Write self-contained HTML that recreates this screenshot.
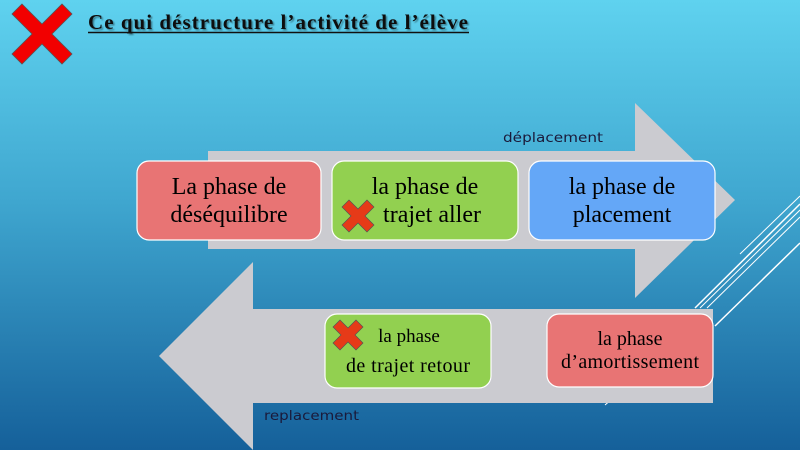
<!DOCTYPE html>
<html><head><meta charset="utf-8"><style>
html,body{margin:0;padding:0;width:800px;height:450px;overflow:hidden}
svg{display:block}
.serif{font-family:"Liberation Serif",serif}
.sans{font-family:"DejaVu Sans","Liberation Sans",sans-serif}
</style></head><body>
<svg width="800" height="450" viewBox="0 0 800 450" xmlns="http://www.w3.org/2000/svg">
<defs>
<linearGradient id="bg" x1="0" y1="0" x2="0" y2="1">
<stop offset="0" stop-color="#5fd2ef"/>
<stop offset="0.45" stop-color="#3fa6cf"/>
<stop offset="1" stop-color="#15609a"/>
</linearGradient>
<filter id="sh" x="-5%" y="-20%" width="110%" height="140%"><feDropShadow dx="1.5" dy="1.5" stdDeviation="0.8" flood-color="#000" flood-opacity="0.4"/></filter>
</defs>
<rect width="800" height="450" fill="url(#bg)"/>
<g stroke="#fff" fill="none">
<line x1="740" y1="254" x2="800" y2="196" stroke-width="1"/>
<line x1="695" y1="308" x2="800" y2="204" stroke-width="1.5"/>
<line x1="700" y1="308" x2="800" y2="210" stroke-width="1"/>
<line x1="707" y1="308" x2="800" y2="217" stroke-width="1"/>
<line x1="715" y1="326" x2="800" y2="243" stroke-width="1.5"/>
<line x1="605" y1="405" x2="620" y2="392" stroke-width="1"/>
</g>
<polygon points="22,4 42,24 62,4 72,14 52,34 72,54 62,64 42,44 22,64 12,54 32,34 12,14" fill="#f20000" stroke="#555" stroke-width="0.8"/>
<text class="serif" x="88" y="29" font-weight="bold" font-size="21" fill="#111" textLength="380" lengthAdjust="spacing" filter="url(#sh)">Ce qui déstructure l’activité  de l’élève</text>
<line x1="88" y1="32.5" x2="469" y2="32.5" stroke="#111" stroke-width="1.5"/>
<polygon points="208,151 635,151 635,103 735,200 635,298 635,249 208,249" fill="#cbcbd0"/>
<text class="sans" x="503" y="142" font-size="13" fill="#1a1a3a" textLength="100" lengthAdjust="spacingAndGlyphs">déplacement</text>
<polygon points="713,309 253,309 253,262 159,356 253,450 253,403 713,403" fill="#cbcbd0"/>
<text class="sans" x="264" y="420" font-size="13" fill="#1a1a3a" textLength="95" lengthAdjust="spacingAndGlyphs">replacement</text>
<g stroke="#fff" stroke-width="1.2">
<rect x="137" y="161" width="184" height="79" rx="12" fill="#e87474"/>
<rect x="332" y="161" width="186" height="79" rx="12" fill="#92d050"/>
<rect x="529" y="161" width="186" height="79" rx="12" fill="#64a7f7"/>
<rect x="325" y="314" width="166" height="74" rx="12" fill="#92d050"/>
<rect x="547" y="314" width="166" height="73" rx="12" fill="#e87474"/>
</g>
<g class="serif" fill="#000" text-anchor="middle">
<text x="229" y="194" font-size="24">La phase de</text>
<text x="229" y="222" font-size="24">déséquilibre</text>
<text x="425" y="194" font-size="24">la phase de</text>
<text x="432" y="222" font-size="24">trajet aller</text>
<text x="622" y="194" font-size="24">la phase de</text>
<text x="622" y="222" font-size="24">placement</text>
<text x="409" y="342" font-size="19">la phase</text>
<text x="408" y="372" font-size="20" textLength="124">de trajet retour</text>
<text x="630" y="345" font-size="20">la phase</text>
<text x="630" y="368" font-size="20" textLength="138">d’amortissement</text>
</g>
<polygon points="349,200 358,209 367,200 374,207 365,216 374,225 367,232 358,223 349,232 342,225 351,216 342,207" fill="#e63a18" stroke="#555" stroke-width="0.7"/>
<polygon points="340,320 348,328 356,320 363,327 355,335 363,343 356,350 348,342 340,350 333,343 341,335 333,327" fill="#e63a18" stroke="#555" stroke-width="0.7"/>
</svg>
</body></html>
